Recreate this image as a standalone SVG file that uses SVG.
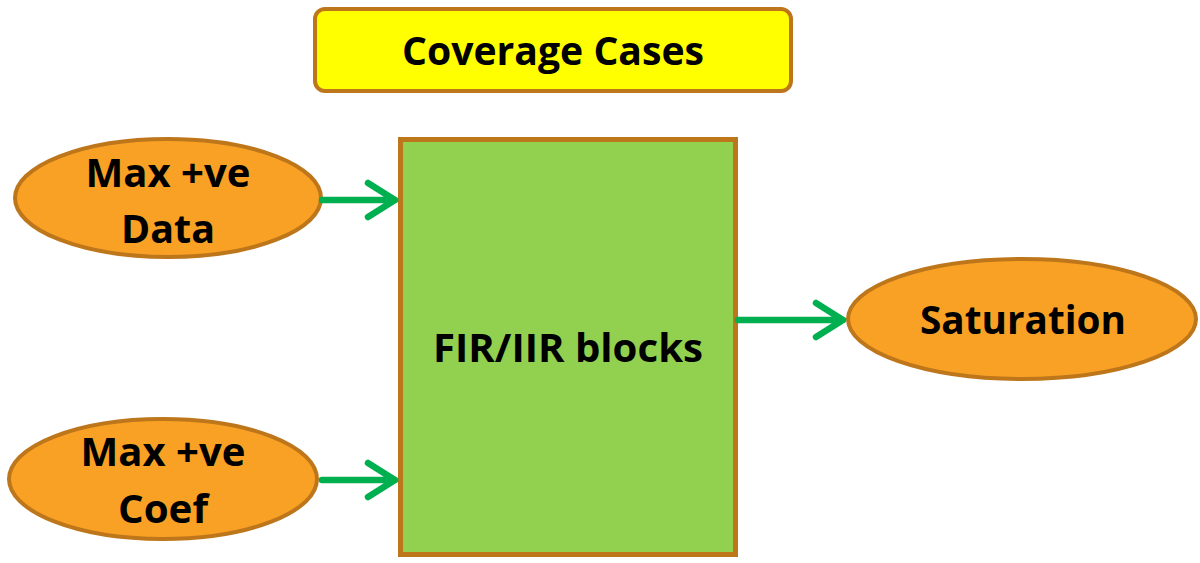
<svg xmlns="http://www.w3.org/2000/svg" width="1200" height="563" viewBox="0 0 1200 563">
  <defs>
    <style>
      .label { font-family: "Open Sans", "Liberation Sans", sans-serif; font-weight: bold; font-size: 39px; fill: #000; text-anchor: middle; }
      .oval { fill: #F9A125; stroke: #BE761B; stroke-width: 4; }
      .link { stroke: #00B050; stroke-width: 6.5; fill: none; stroke-linecap: round; stroke-linejoin: round; }
    </style>
  </defs>
  <rect width="1200" height="563" fill="#fff"/>

  <g id="title">
    <rect x="315" y="9" width="476" height="82" rx="10" ry="10" fill="#FFFF00" stroke="#BE761B" stroke-width="4"/>
    <text class="label" x="553" y="65" textLength="302" lengthAdjust="spacingAndGlyphs">Coverage Cases</text>
  </g>

  <g id="filter">
    <rect x="400.5" y="139.5" width="335" height="415" fill="#92D050" stroke="#BE761B" stroke-width="5"/>
    <text class="label" x="568" y="362" textLength="270" lengthAdjust="spacingAndGlyphs">FIR/IIR blocks</text>
  </g>

  <g id="data">
    <ellipse class="oval" cx="168" cy="198" rx="153" ry="59"/>
    <text class="label" x="168" y="187" textLength="165" lengthAdjust="spacingAndGlyphs">Max +ve</text>
    <text class="label" x="168" y="243" textLength="94" lengthAdjust="spacingAndGlyphs">Data</text>
  </g>

  <g id="coef">
    <ellipse class="oval" cx="163" cy="479" rx="154" ry="60"/>
    <text class="label" x="163" y="466" textLength="165" lengthAdjust="spacingAndGlyphs">Max +ve</text>
    <text class="label" x="163" y="523" textLength="90" lengthAdjust="spacingAndGlyphs">Coef</text>
  </g>

  <g id="saturation">
    <ellipse class="oval" cx="1022" cy="319" rx="174" ry="60"/>
    <text class="label" x="1023" y="334" textLength="206" lengthAdjust="spacingAndGlyphs">Saturation</text>
  </g>

  <g id="connectors">
    <path class="link" d="M322 200 H395 M368 183 L395 200 L368 217"/>
    <path class="link" d="M322 480 H395 M368 463 L395 480 L368 497"/>
    <path class="link" d="M738 320 H843 M816 303 L843 320 L816 337"/>
  </g>
</svg>
